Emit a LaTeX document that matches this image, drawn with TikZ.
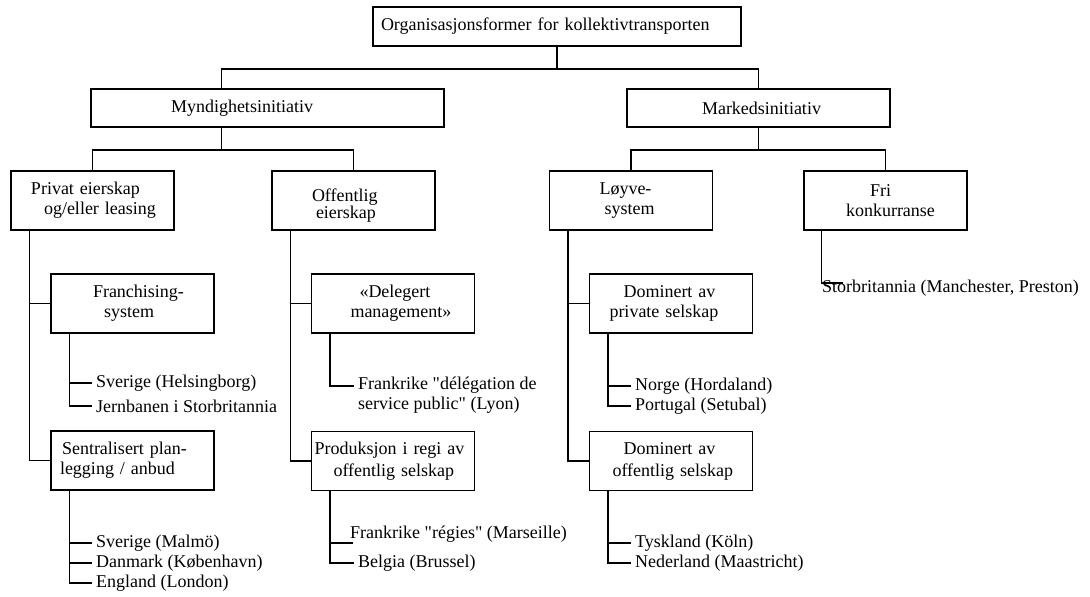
\documentclass[tikz,border=0pt]{standalone}
\usepackage{fontspec}
\newfontfamily\orgfont{Liberation Serif}
\begin{document}
\begin{tikzpicture}[x=1pt,y=-1pt,
	every node/.style={font=\orgfont\fontsize{18}{20}\selectfont},
	box/.style={draw,line width=1.5pt,inner xsep=0pt,inner ysep=2pt,align=left,text width=163pt,minimum height=59pt},
	leaf/.style={anchor=west,inner xsep=4pt,inner ysep=1pt},
	conn/.style={line width=1.5pt}]
	\useasboundingbox (0,0) rectangle (1090,597);
	\node[box,text width=368pt,minimum height=39pt] (org) at (557,26.5) {\hspace*{8pt}Organisasjonsformer for kollektivtransporten};
	\node[box,text width=353pt,minimum height=38pt] (myn) at (267.5,108) {\hspace*{80pt}Myndighetsinitiativ};
	\node[box,text width=263pt,minimum height=38pt] (mark) at (758.5,108) {\hspace*{75pt}Markedsinitiativ};
	\node[box] (priv) at (92.5,200.5) {\hspace*{20pt}Privat eierskap\\\hspace*{33pt}og/eller leasing};
	\node[box,font=\orgfont\fontsize{18}{17}\selectfont] (off) at (353.5,200.5) {\rule{0pt}{22pt}\hspace*{40pt}Offentlig\\\hspace*{44pt}eierskap};
	\node[box] (loy) at (631,200.5) {\hspace*{50pt}Løyve-\\\hspace*{55pt}system};
	\node[box] (fri) at (885.5,200.5) {\hspace*{66pt}Fri\\\hspace*{42pt}konkurranse};
	\node[box] (fran) at (132.5,303.5) {\hspace*{42pt}Franchising-\\\hspace*{53pt}system};
	\node[box] (sent) at (132.5,460.5) {\hspace*{11pt}Sentralisert plan-\\\hspace*{9pt}legging / anbud};
	\node[box] (del) at (393,303.5) {\hspace*{48pt}«Delegert\\\hspace*{39pt}management»};
	\node[box,font=\orgfont\fontsize{18}{22}\selectfont] (prod) at (393,461) {\hspace*{3pt}Produksjon i regi av\\\hspace*{22pt}offentlig selskap};
	\node[box] (dpriv) at (671,303.5) {\hspace*{34pt}Dominert av\\\hspace*{20pt}private selskap};
	\node[box,font=\orgfont\fontsize{18}{22}\selectfont] (doff) at (671,461) {\hspace*{34pt}Dominert av\\\hspace*{23pt}offentlig selskap};
	\node[leaf] (hel) at (92,383) {Sverige (Helsingborg)};
	\node[leaf] (jern) at (92,406) {Jernbanen i Storbritannia};
	\node[leaf] (malm) at (92,543) {Sverige (Malmö)};
	\node[leaf] (kob) at (92,563) {Danmark (København)};
	\node[leaf] (lon) at (92,583) {England (London)};
	\node[leaf,align=left] (lyon) at (354,395) {Frankrike "délégation de\\service public" (Lyon)};
	\node[leaf,inner xsep=0pt] (mars) at (350,534) {Frankrike "régies" (Marseille)};
	\node[leaf] (brus) at (354,563) {Belgia (Brussel)};
	\node[leaf] (norg) at (631,386) {Norge (Hordaland)};
	\node[leaf] (port) at (631,406) {Portugal (Setubal)};
	\node[leaf] (koln) at (631,543) {Tyskland (Köln)};
	\node[leaf] (maas) at (631,563) {Nederland (Maastricht)};
	\node[leaf,inner xsep=0pt] (stor) at (822,288) {Storbritannia (Manchester, Preston)};
	\draw[conn] (org.south) -- ++(0,22) coordinate (j0);
	\draw[conn] (j0) -| ([xshift=131pt]myn.north west);
	\draw[conn] (j0) -| (mark.north);
	\draw[conn] ([xshift=131pt]myn.south west) -- ++(0,22) coordinate (j1);
	\draw[conn] (j1) -| (priv.north);
	\draw[conn] (j1) -| (off.north);
	\draw[conn] (mark.south) -- ++(0,22) coordinate (j2);
	\draw[conn] (j2) -| (loy.north);
	\draw[conn] (j2) -| (fri.north);
	\foreach \p/\c in {priv/fran,priv/sent,off/del,off/prod,loy/dpriv,loy/doff,
		fran/hel,fran/jern,sent/malm,sent/kob,sent/lon,prod/brus,
		dpriv/norg,dpriv/port,doff/koln,doff/maas}
		\draw[conn] ([xshift=19pt]\p.south west) |- (\c.west);
	\draw[conn] ([xshift=19pt]del.south west) |- ([yshift=9pt]lyon.west);
	\draw[conn] ([xshift=19pt]prod.south west) |- ([xshift=3pt,yshift=-9pt]mars.west);
	\draw[conn] ([xshift=18pt]fri.south west) |- ([xshift=21pt,yshift=5pt]stor.west);
\end{tikzpicture}
\end{document}
